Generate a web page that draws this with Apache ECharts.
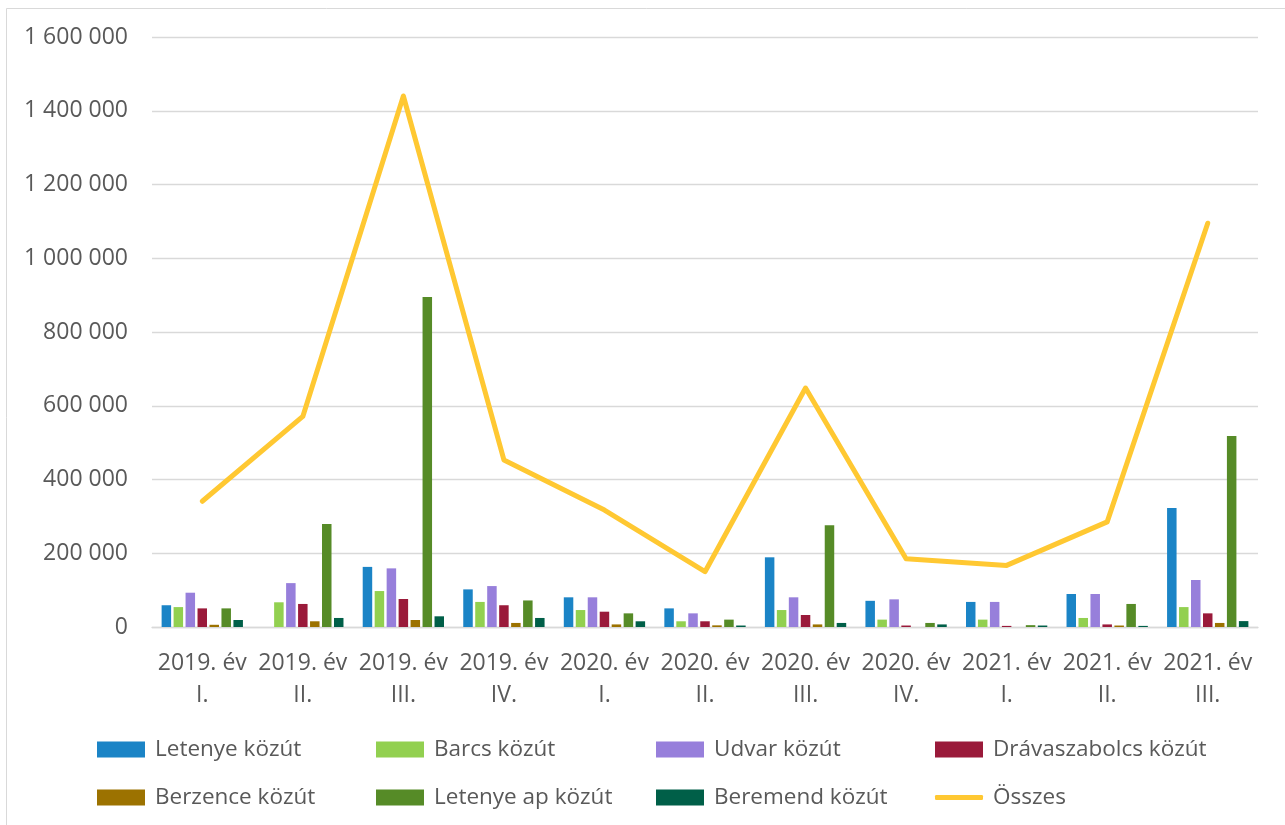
<!DOCTYPE html>
<html>
<head>
<meta charset="utf-8">
<script src="https://cdn.jsdelivr.net/npm/echarts@6/dist/echarts.min.js"></script>
<style>
html,body{margin:0;padding:0;background:#fff;}
#chart{width:1285px;height:825px;}
</style>
</head>
<body>
<div id="chart"></div>
<script>
const categories = ['2019. év\nI.', '2019. év\nII.', '2019. év\nIII.', '2019. év\nIV.', '2020. év\nI.', '2020. év\nII.', '2020. év\nIII.', '2020. év\nIV.', '2021. év\nI.', '2021. év\nII.', '2021. év\nIII.'];
const letenye   = [59000, null, 163000, 102000, 80500, 50500, 189000, 71000, 68000, 89500, 323000];
const barcs     = [54000, 67000, 97500, 68000, 46000, 15500, 46000, 20000, 20000, 24500, 54000];
const udvar     = [93000, 119000, 159000, 111000, 80500, 37000, 80500, 75000, 68000, 89500, 127500];
const drava     = [50500, 62500, 76000, 59000, 41500, 15500, 32500, 4000, 3000, 7000, 37000];
const berzence  = [6000, 15500, 19000, 11000, 7000, 4500, 7000, null, null, 4000, 11000];
const letenyeAp = [50500, 279000, 895000, 72000, 37000, 20000, 276000, 11000, 5000, 62500, 518000];
const beremend  = [19000, 24500, 29000, 24500, 15500, 4000, 11000, 7000, 4000, 3000, 16000];
const osszes    = [341000, 571000, 1440000, 453000, 317000, 150000, 648000, 185000, 167000, 285000, 1095000];

const barSeries = [
  ['Letenye közút', letenye, '#1B84C6'],
  ['Barcs közút', barcs, '#92D050'],
  ['Udvar közút', udvar, '#977FDB'],
  ['Drávaszabolcs közút', drava, '#9A1A3A'],
  ['Berzence közút', berzence, '#9C7200'],
  ['Letenye ap közút', letenyeAp, '#568B27'],
  ['Beremend közút', beremend, '#005F48']
];
const lineName = 'Összes';
const lineColor = '#FFC832';

const FONT = "'Open Sans', 'Noto Sans', sans-serif";
const TXT = '#595959';

function fmt(v){ return String(v).replace(/\B(?=(\d{3})+(?!\d))/g, ' '); }

const series = barSeries.map(([name, data, color]) => ({
  name, type: 'bar', data, barWidth: 9.5, barGap: '26%',
  itemStyle: { color }
}));
series.push({
  name: lineName, type: 'line', data: osszes, showSymbol: false, symbol: 'none',
  lineStyle: { width: 5, color: lineColor, cap: 'round', join: 'round' },
  itemStyle: { color: lineColor }, z: 10
});

const legendCols = [97, 376, 656, 935];
const legendRows = [750, 798];
const legendNames = barSeries.map(s => s[0]).concat([lineName]);
const legends = legendNames.map((n, i) => {
  const isLine = n === lineName;
  return {
    data: [n],
    left: legendCols[i % 4],
    top: legendRows[Math.floor(i / 4)] - 12,
    height: 24,
    itemWidth: 48,
    itemHeight: isLine ? 5 : 16,
    icon: isLine ? 'roundRect' : 'rect',
    textStyle: { fontFamily: FONT, fontSize: 22.5, color: TXT, padding: [0,0,0,5] },
    padding: 0
  };
});

const chart = echarts.init(document.getElementById('chart'), null, { renderer: 'canvas' });
chart.setOption({
  animation: false,
  backgroundColor: '#fff',
  textStyle: { fontFamily: FONT },
  graphic: [{
    type: 'rect', silent: true,
    shape: { x: 6.5, y: 8.5, width: 1300, height: 840 },
    style: { fill: 'none', stroke: '#D9D9D9', lineWidth: 1 }
  }],
  grid: { left: 152, right: 27, top: 37, bottom: 198, containLabel: false },
  legend: legends,
  xAxis: {
    type: 'category', data: categories,
    axisTick: { show: false },
    axisLine: { lineStyle: { color: '#D9D9D9', width: 1.3 } },
    axisLabel: { interval: 0, color: TXT, fontSize: 23, fontFamily: FONT, lineHeight: 32, margin: 20 }
  },
  yAxis: {
    type: 'value', min: 0, max: 1600000, interval: 200000,
    axisLine: { show: false }, axisTick: { show: false },
    splitLine: { lineStyle: { color: '#D9D9D9', width: 1.3 } },
    axisLabel: { color: TXT, fontSize: 23, fontFamily: FONT, margin: 24, formatter: fmt }
  },
  series
});
</script>
</body>
</html>
